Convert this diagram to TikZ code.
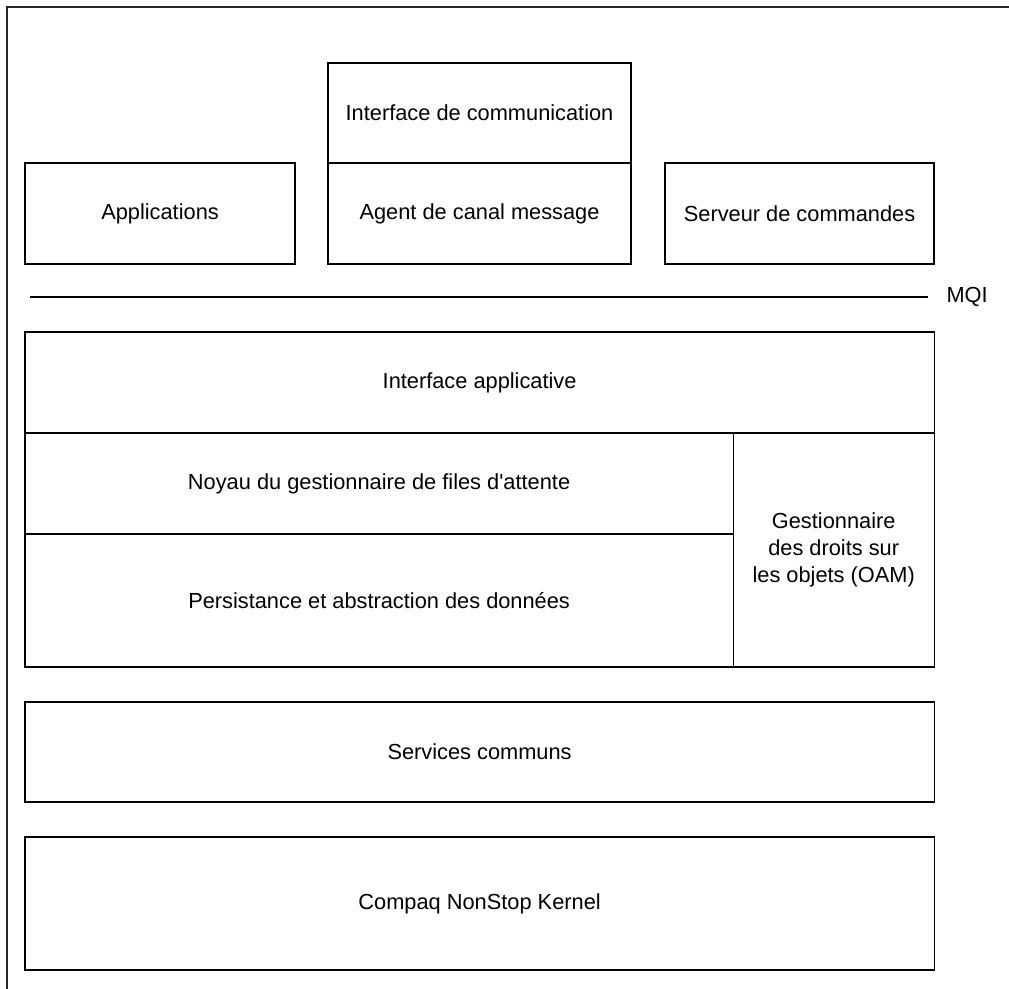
\documentclass[tikz,border=0pt]{standalone}
\usepackage{fontspec}
\setmainfont{Liberation Sans}
\usetikzlibrary{shapes,positioning,calc}

\begin{document}
\begin{tikzpicture}[x=0.025cm, y=-0.025cm, node distance=0cm, thick]
  % Styles
  \tikzstyle{layer} = [rectangle, draw, line width=0.9pt, outer sep=0pt, inner sep=0pt, text centered, align=center, font=\fontsize{15.5}{19.2}\selectfont]
  \tikzstyle{frame} = [draw, line width=1.4pt, black!85]

  \useasboundingbox (0,0) rectangle (1009,989);
  \path[frame] (7,989) -- (7,7) -- (1009,7);

  % Nodes
  \node[layer, anchor=north west, minimum width=6.75cm, minimum height=2.525cm] (apps) at (25,163) {Applications};
  \node[layer, anchor=north west, minimum width=7.575cm, minimum height=2.5cm] (comm) at (328,63) {Interface de communication};
  \node[layer, below=of comm, minimum width=7.575cm, minimum height=2.525cm] (mca) {Agent de canal message};
  \node[layer, anchor=north west, minimum width=6.725cm, minimum height=2.525cm] (cmdsrv) at (665,163) {Serveur de commandes};

  \coordinate (mqistart) at (30,297);
  \coordinate (mqiend) at (928,297);
  \node[right=0.45cm of mqiend, font=\fontsize{15.5}{19.2}\selectfont, inner sep=0pt] (mqi) {MQI};

  \node[layer, anchor=north west, minimum width=22.725cm, minimum height=2.525cm] (api) at (25,332) {Interface applicative};
  \node[layer, anchor=north west, minimum width=17.7cm, minimum height=2.525cm] (kernel) at (api.south west) {Noyau du gestionnaire de files d\textquotesingle attente};
  \node[layer, below=of kernel, minimum width=17.7cm, minimum height=3.325cm] (persist) {Persistance et abstraction des données};
  \node[layer, anchor=north east, minimum width=5.025cm, minimum height=5.85cm] (oam) at (api.south east) {Gestionnaire\\des droits sur\\les objets (OAM)};

  \node[layer, anchor=north west, minimum width=22.725cm, minimum height=2.5cm] (common) at (25,702) {Services communs};
  \node[layer, anchor=north west, minimum width=22.725cm, minimum height=3.325cm] (nsk) at (25,837) {Compaq NonStop Kernel};

  % Lines
  \draw[line width=0.9pt] (mqistart) -- (mqiend);

\end{tikzpicture}
\end{document}
